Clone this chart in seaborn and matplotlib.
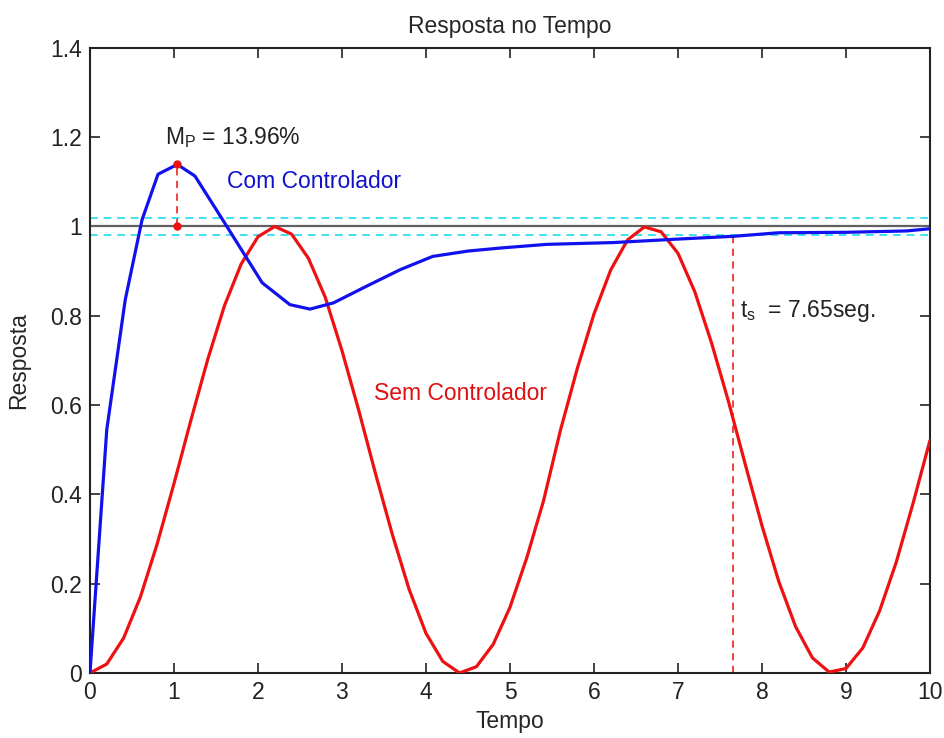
import numpy as np
import pandas as pd
import matplotlib
matplotlib.use("Agg")
import matplotlib.pyplot as plt
import seaborn as sns

# ---- data ----
t_sem = [0.0, 0.2, 0.4, 0.6, 0.8, 1.0, 1.2, 1.4, 1.6, 1.8, 2.0, 2.2, 2.4, 2.6, 2.8,
         3.0, 3.2, 3.4, 3.6, 3.8, 4.0, 4.2, 4.4, 4.6, 4.8, 5.0, 5.2, 5.4, 5.6, 5.8,
         6.0, 6.2, 6.4, 6.6, 6.8, 7.0, 7.2, 7.4, 7.6, 7.8, 8.0, 8.2, 8.4, 8.6, 8.8,
         9.0, 9.2, 9.4, 9.6, 9.8, 10.0]
y_sem = [0.000, 0.020, 0.078, 0.170, 0.289, 0.424, 0.565, 0.701, 0.822, 0.916,
         0.977, 1.000, 0.983, 0.929, 0.842, 0.722, 0.588, 0.446, 0.310, 0.187,
         0.089, 0.026, 0.000, 0.014, 0.064, 0.147, 0.258, 0.386, 0.543, 0.681,
         0.804, 0.903, 0.970, 0.999, 0.988, 0.940, 0.854, 0.739, 0.609, 0.468,
         0.330, 0.205, 0.104, 0.034, 0.002, 0.010, 0.056, 0.139, 0.249, 0.381,
         0.521]

t_com = [0.0, 0.2, 0.42, 0.62, 0.81, 1.04, 1.25, 1.6, 2.05, 2.38, 2.62, 2.9, 3.29,
         3.69, 4.08, 4.5, 4.9, 5.44, 6.23, 7.02, 7.66, 8.2, 9.0, 9.72, 10.0]
y_com = [0.0, 0.545, 0.836, 1.015, 1.117, 1.139, 1.113, 1.009, 0.874, 0.825, 0.815,
         0.829, 0.866, 0.903, 0.933, 0.945, 0.952, 0.960, 0.964, 0.972, 0.978,
         0.986, 0.987, 0.990, 0.995]

t_peak = 1.04
mp_peak = 1.1396
ts = 7.65
ref_level = 1.0
band_hi = 1.02
band_lo = 0.98

x_ticks = [0, 1, 2, 3, 4, 5, 6, 7, 8, 9, 10]
y_ticks = [0, 0.2, 0.4, 0.6, 0.8, 1, 1.2, 1.4]
y_tick_labels = ["0", "0.2", "0.4", "0.6", "0.8", "1", "1.2", "1.4"]

sns.set_style("ticks")
plt.rcParams['font.family'] = ['Liberation Sans', 'DejaVu Sans']
plt.rcParams['mathtext.fontset'] = 'custom'
plt.rcParams['mathtext.rm'] = 'Liberation Sans'
plt.rcParams['mathtext.it'] = 'Liberation Sans'

FS = 16.5

fig = plt.figure(figsize=(9.45, 7.38), dpi=100)
ax = fig.add_axes([0.0952, 0.0881, 0.8889, 0.847])

df_sem = pd.DataFrame({"Tempo": t_sem, "Resposta": y_sem})
df_com = pd.DataFrame({"Tempo": t_com, "Resposta": y_com})

ax.axhline(ref_level, color="#606060", lw=1.6, zorder=1)
ax.axhline(band_hi, color="#40e0f0", lw=1.4, ls=(0, (4, 3)), zorder=1)
ax.axhline(band_lo, color="#40e0f0", lw=1.4, ls=(0, (4, 3)), zorder=1)

sns.lineplot(data=df_sem, x="Tempo", y="Resposta", color="#ee1111", lw=2.3,
             ax=ax, estimator=None, sort=False, zorder=3)
sns.lineplot(data=df_com, x="Tempo", y="Resposta", color="#1111ee", lw=2.3,
             ax=ax, estimator=None, sort=False, zorder=4)

ax.plot([t_peak, t_peak], [ref_level, mp_peak], color="#ee3333", lw=1.3,
        ls=(0, (4, 3)), zorder=5)
ax.plot([t_peak, t_peak], [ref_level, mp_peak], color="#ee1111", ls="none",
        marker="o", ms=5, zorder=6)
ax.plot([ts, ts], [0, band_lo], color="#ee3333", lw=1.3, ls=(0, (4, 3)), zorder=2)

ax.text(0.89, 1.20, r"M$_\mathrm{P}$ = 13.96%", fontsize=FS, color="#222222",
        va="center", ha="left")
ax.text(1.63, 1.10, "Com Controlador", fontsize=FS, color="#1111cc",
        va="center", ha="left")
ax.text(3.38, 0.625, "Sem Controlador", fontsize=FS, color="#dd1111",
        va="center", ha="left")
ax.text(7.74, 0.81, r"t$_\mathrm{s}$  = 7.65seg.", fontsize=FS, color="#222222",
        va="center", ha="left")

ax.set_xlim(0, 10)
ax.set_ylim(0, 1.4)
ax.set_xticks(x_ticks)
ax.set_xticklabels([str(v) for v in x_ticks])
ax.set_yticks(y_ticks)
ax.set_yticklabels(y_tick_labels)
ax.tick_params(direction="in", top=True, right=True, length=7, width=1.2,
               labelsize=FS, colors="#222222", pad=6)
for s in ax.spines.values():
    s.set_visible(True)
    s.set_linewidth(1.5)
    s.set_color("#222222")
ax.set_xlabel("Tempo", fontsize=FS, labelpad=4)
ax.set_ylabel("Resposta", fontsize=FS, labelpad=14)
ax.set_title("Resposta no Tempo", fontsize=FS, pad=11)

fig.savefig("out.png", dpi=100)
